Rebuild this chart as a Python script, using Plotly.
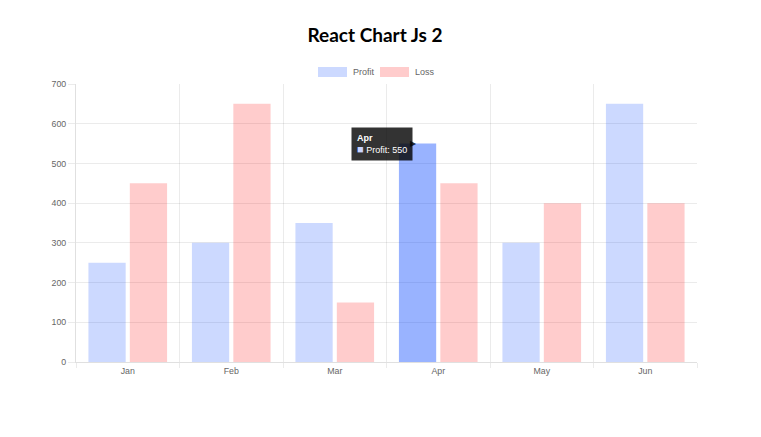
import plotly.graph_objects as go

months = ["Jan", "Feb", "Mar", "Apr", "May", "Jun"]
profit = [250, 300, 350, 550, 300, 650]
loss = [450, 650, 150, 450, 400, 400]
y_ticks = [0, 100, 200, 300, 400, 500, 600, 700]

profit_color = "rgba(0,64,255,0.2)"
profit_hover = "rgba(0,64,255,0.4)"
loss_color = "rgba(255,0,0,0.2)"
hovered = "Apr"

fig = go.Figure()
fig.add_trace(go.Bar(
    name="Profit", x=months, y=profit,
    marker=dict(color=[profit_hover if m == hovered else profit_color for m in months],
                line=dict(width=0)),
))
fig.add_trace(go.Bar(
    name="Loss", x=months, y=loss,
    marker=dict(color=loss_color, line=dict(width=0)),
))

# page body has an 8px margin, so the figure is offset by (8, 8)
W, H = 745, 421
L, R, T, B = 68, 56, 76, 67
PW, PH = W - L - R, H - T - B

grid = "rgba(0,0,0,0.08)"
fs = 8.8
fig.update_layout(
    width=W, height=H,
    paper_bgcolor="white", plot_bgcolor="white",
    margin=dict(l=L, r=R, t=T, b=B, autoexpand=False),
    barmode="group", bargap=0.2, bargroupgap=0.1,
    font=dict(family="Liberation Sans, Arial, sans-serif", size=fs, color="#666"),
    title=dict(text="<b>React Chart Js 2</b>", x=367 / W, xanchor="center",
               y=1 - 27 / H, yanchor="middle", yref="container",
               font=dict(family="Lato, sans-serif", size=19, color="#000")),
    showlegend=False,
    xaxis=dict(type="category", tickson="boundaries", ticks="outside", ticklen=5, tickcolor=grid,
               showgrid=True, gridcolor=grid, showline=True, linecolor="rgba(0,0,0,0.12)",
               linewidth=1, automargin=False, tickfont=dict(size=fs, color="#666")),
    yaxis=dict(range=[0, 700], tickvals=y_ticks, ticks="outside", ticklen=7, tickcolor=grid,
               showgrid=True, gridcolor=grid, showline=True, linecolor="rgba(0,0,0,0.12)",
               zeroline=False, automargin=False, tickfont=dict(size=fs, color="#666")),
)

# Chart.js-style legend (wide colour boxes); positions relative to plot area (window px)
px0, py0 = 76, 362  # plot-area left / bottom in window pixels
legend_items = [("Profit", profit_color), ("Loss", loss_color)]
box_x = [318, 380]
for (name, col), bx in zip(legend_items, box_x):
    fig.add_shape(type="rect", xref="paper", yref="paper",
                  x0=(bx - px0) / PW, x1=(bx + 29 - px0) / PW,
                  y0=(py0 - 67) / PH, y1=(py0 - 77) / PH,
                  fillcolor=col, line=dict(width=0))
    fig.add_annotation(xref="paper", yref="paper", x=(bx + 33 - px0) / PW, y=(py0 - 72) / PH,
                       text=name, showarrow=False, xanchor="left", yanchor="middle",
                       font=dict(size=9, color="#666"))

# Tooltip for the hovered bar
idx = months.index(hovered)
tip = ("<b>%s</b><br><span style='color:%s;font-size:11px'>■</span> Profit: %d"
       % (hovered, "#c8d4ff", profit[idx]))
fig.add_annotation(
    x=hovered, y=profit[idx], xref="x", yref="y", text=tip, showarrow=False,
    xanchor="right", yanchor="middle", xshift=-25, align="left",
    bgcolor="rgba(0,0,0,0.8)", bordercolor="rgba(0,0,0,0)", borderpad=5,
    font=dict(color="white", size=9, family="Liberation Sans, Arial, sans-serif"),
)
fig.add_annotation(
    x=hovered, y=profit[idx], xref="x", yref="y", text="▶", showarrow=False,
    xanchor="right", yanchor="middle", xshift=-19,
    font=dict(color="rgba(0,0,0,0.8)", size=8),
)

fig.write_html("out.html")
